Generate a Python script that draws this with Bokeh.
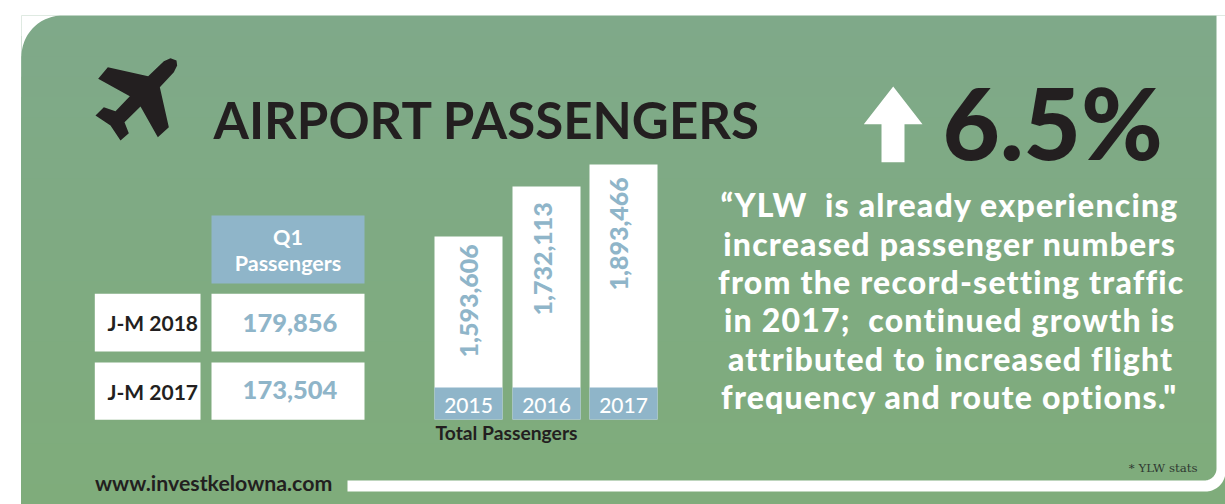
import numpy as np
from bokeh.plotting import figure
from bokeh.layouts import column
from bokeh.embed import file_html
from bokeh.resources import INLINE
from bokeh.core.properties import value

# ---- chart data
title = "AIRPORT PASSENGERS"
change = "6.5%"
table_header = ["Q1", "Passengers"]
table_rows = ["J-M 2018", "J-M 2017"]
table_values = ["179,856", "173,504"]
years = ["2015", "2016", "2017"]
year_values = ["1,593,606", "1,732,113", "1,893,466"]
bar_drawn_heights = [183, 233, 255]   # the reference's bars are not to scale with their labels
quote = ["\u201cYLW \u00a0is already experiencing", "increased passenger numbers",
         "from the record-setting traffic", "in 2017; \u00a0continued growth is",
         "attributed to increased flight", "frequency and route options.\""]

DARK = "#231f20"; BLUE = "#8fb5c9"; WHITE = "#ffffff"
SHIFT = 0.4
TRACK = 1.2

p = figure(width=1225, height=504, x_range=(0, 1225), y_range=(504, 0),
           output_backend="svg", toolbar_location=None, min_border=0,
           background_fill_color=WHITE, border_fill_color=WHITE, outline_line_color=None)
p.axis.visible = False
p.grid.visible = False

def T(x, y, s, size, color=DARK, align="left", font="Lato", style="bold", angle=0, fig=None):
    fig = fig or p
    if angle:
        x = x - SHIFT * size
    else:
        y = y - SHIFT * size
    fig.text(x=[x], y=[y], text=[s], text_font=value(font), text_font_size=f"{size}px",
             text_font_style=style, text_color=color, text_align=align,
             text_baseline="alphabetic", angle=angle)

# green panel with a faint vertical colour drift
edges = np.linspace(15, 504, 25)
c0, c1 = np.array([127, 169, 137]), np.array([127, 172, 123])
cols = ["#%02x%02x%02x" % tuple(int(round(v)) for v in c0 + (c1 - c0) * i / 23) for i in range(24)]
p.quad(left=21, right=1225, top=edges[:-1], bottom=504, fill_color=cols, line_color=None)

# rounded top-left corner
a = np.linspace(np.pi, 1.5 * np.pi, 30)
p.patch(x=np.r_[21, 21 + 41 + 41 * np.cos(a)], y=np.r_[15, 15 + 41 + 41 * np.sin(a)],
        fill_color=WHITE, line_color=None)

# white frame at the lower right
a1 = np.linspace(0.5 * np.pi, 0, 20)
a2 = np.linspace(0, 0.5 * np.pi, 20)
fx = np.r_[347, 1204 + 12 * np.cos(a1), 1216, 1225, 1205 + 20 * np.cos(a2), 347]
fy = np.r_[480, 468 + 12 * np.sin(a1), 15, 15, 471 + 20 * np.sin(a2), 491]
p.patch(x=fx, y=fy, fill_color=WHITE, line_color=None)

# plane icon
pz = [(510,173),(528,180),(530,195),(520,215),(478,260),(505,380),(472,410),(420,318),(372,365),
      (385,398),(360,420),(330,375),(285,345),(310,320),(345,332),(388,287),(293,235),(322,200),
      (443,227),(490,182)]
p.patch(x=[q_[0] / 3 for q_ in pz], y=[q_[1] / 3 for q_ in pz], fill_color=DARK, line_color=None)

T(213, 139, title, 51, style="bold")

# arrow + percentage
p.patch(x=[892.7, 922, 904, 904, 881, 881, 863.3], y=[86, 123.7, 123.7, 161.7, 161.7, 123.7, 123.7],
        fill_color=WHITE, line_color=None)
T(942, 161, change, 99, font="Lato Black", style="bold")

# table
p.quad(left=[211], right=[364], top=[215], bottom=[283], fill_color=BLUE, line_color=None)
T(287.5, 244.7, table_header[0], 21.5, WHITE, "center")
T(287.5, 270.7, table_header[1], 21.5, WHITE, "center")
row_top = [293.3, 362]; row_bot = [351, 419.3]
p.quad(left=[94.3] * 2, right=[200] * 2, top=row_top, bottom=row_bot, fill_color=WHITE, line_color=None)
p.quad(left=[211] * 2, right=[364] * 2, top=row_top, bottom=row_bot, fill_color=WHITE, line_color=None)
for r, v, yl, yv in zip(table_rows, table_values, [330.7, 399], [333, 400]):
    T(107, yl, r, 21)
    T(289.5, yv, v, 25.5, BLUE, "center", font="Lato Black", style="bold")

# bars
bar_x = [468, 546, 623]
base = 419
p.vbar(x=bar_x, width=68, bottom=base, top=[base - h for h in bar_drawn_heights],
       fill_color=WHITE, line_color=None)
p.vbar(x=bar_x, width=68, bottom=base, top=387, fill_color=BLUE, line_color=None)
for x, y, v, st, lx in zip(bar_x, years, year_values, [357, 315, 290], [478, 552, 628]):
    T(lx, st, v, 25, BLUE, "left", angle=np.pi / 2, font="Lato Black", style="bold")
    T(x, 413, y, 21, WHITE, "center", font="Lato Medium", style="normal")
T(435, 440, "Total Passengers", 19.3)

T(94.5, 491.5, "www.investkelowna.com", 21.3)
T(1197, 472, "* YLW stats", 11.8, "#2f3a32", "right", font="DejaVu Serif", style="normal")

# quote: a transparent overlay so that its text can carry its own tracking
q = figure(width=560, height=270, x_range=(665, 1225), y_range=(440, 170),
           output_backend="svg", toolbar_location=None, min_border=0,
           background_fill_alpha=0, border_fill_alpha=0, outline_line_color=None)
q.axis.visible = False
q.grid.visible = False
q.styles = {"position": "absolute", "left": "665px", "top": "170px", "letter-spacing": f"{TRACK}px"}
for s, y in zip(quote, [217, 256, 294, 332, 371, 409]):
    # the library centres a line without its tracking, so half of that is taken off here
    T(949.5 - len(s) * TRACK / 2, y, s, 32, WHITE, "center", font="Lato Black", style="bold", fig=q)

open("out.html", "w").write(file_html(column(p, q, spacing=0), INLINE))
